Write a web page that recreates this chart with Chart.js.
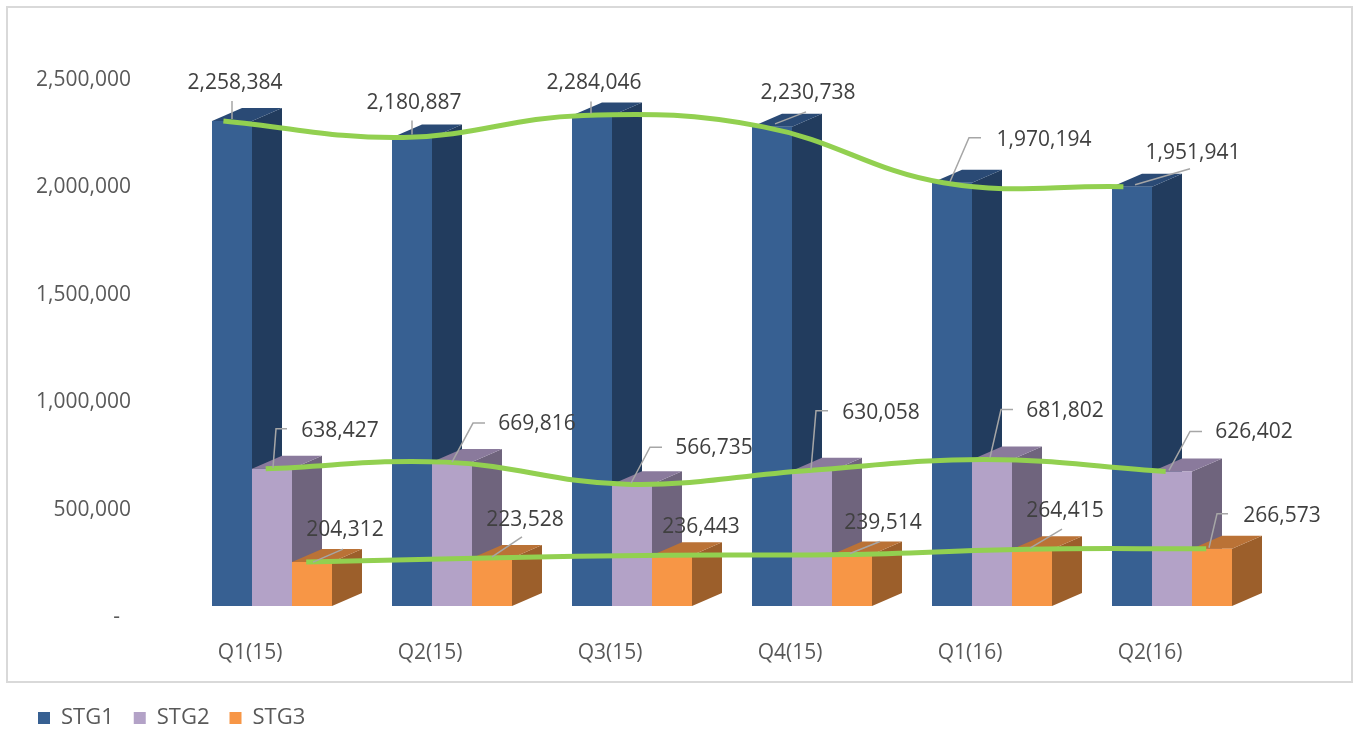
<!DOCTYPE html>
<html>
<head>
<meta charset="utf-8">
<script src="https://cdn.jsdelivr.net/npm/chart.js@4.4.1/dist/chart.umd.min.js"></script>
<style>
  html, body { margin: 0; padding: 0; background: #fff; overflow: hidden; }
  #wrap { position: relative; width: 1354px; height: 744px; }
</style>
</head>
<body>
<div id="wrap"><canvas id="chart"></canvas></div>
<script>
// --- Data ---
const quarters = ["Q1(15)", "Q2(15)", "Q3(15)", "Q4(15)", "Q1(16)", "Q2(16)"];
const seriesNames = ["STG1", "STG2", "STG3"];

const stg1 = [2258384, 2180887, 2284046, 2230738, 1970194, 1951941];
const stg2 = [638427, 669816, 566735, 630058, 681802, 626402];
const stg3 = [204312, 223528, 236443, 239514, 264415, 266573];

const yMin = 0;
const yMax = 2500000;
const yStep = 500000;

// --- Styling ---
const FRONT = ["#376092", "#B3A2C7", "#F79646"];
const SIDE = ["#223C5E", "#6F647D", "#9C5F2B"];
const TOP = ["#2A4A75", "#8A7A9C", "#BA7236"];
const LINE_GREEN = "#92D050";
const DEPTH = { dx: 30, dy: -13 };

// where the green line meets each bar, as a shift along the category (in category units)
const LINE_X_SHIFT = [-0.27, -0.035, 0.19];

// label centre relative to the bar's front-top centre
const LABEL_POS = [
  [[3, -38], [2, -35], [2, -32], [36, -34], [92, -43], [61, -34]],
  [[68, -38], [85, -38], [82, -36], [69, -58], [73, -49], [82, -39]],
  [[33, -32], [33, -38], [29, -28], [31, -32], [33, -38], [70, -33]]
];

// leader lines relative to the bar's front-top centre
const LEADERS = [
  [[[0, -20], [0, -2]], [[0, -17], [0, -3]], [[-1, -14], [-1, -2]],
   [[34, -15], [3, -3]], [[29, -45], [17, -45], [-2, -1]], [[58, -18], [3, -2]]],
  [[[15, -40], [4, -40], [1, -1]], [[33, -39], [21, -39], [0, 0]], [[30, -37], [18, -37], [-1, -1]],
   [[16, -60], [4, -60], [-1, -1]], [[21, -50], [9, -50], [-2, -2]], [[30, -40], [18, -40], [-3, -1]]],
  [[[31, -13], [1, 0]], [[30, -21], [0, -1]], null,
   [[28, -13], [-2, -1]], [[30, -20], [-2, -1]], [[16, -35], [5, -35], [-3, -1]]]
];

const FONT = "'Open Sans', 'DejaVu Sans', sans-serif";

const barSeries = [stg1, stg2, stg3];

function fmt(v) {
  return Number(v).toLocaleString("en-US");
}

// --- Plugins ---
const frame = {
  id: "frame",
  beforeDraw(chart) {
    const ctx = chart.ctx;
    ctx.save();
    ctx.strokeStyle = "#D9D9D9";
    ctx.lineWidth = 2;
    ctx.strokeRect(7, 7, 1345, 675);
    ctx.restore();
  }
};

// side and top faces of the 3D bars; fronts are the normal bars
const bar3d = {
  id: "bar3d",
  beforeDatasetsDraw(chart) {
    const ctx = chart.ctx;
    const { dx, dy } = DEPTH;
    ctx.save();
    for (let i = 0; i < quarters.length; i++) {
      for (let s = 0; s < barSeries.length; s++) {
        const el = chart.getDatasetMeta(s).data[i];
        if (!el) continue;
        const { x, y, base, width } = el.getProps(["x", "y", "base", "width"], true);
        const l = x - width / 2;
        const r = x + width / 2;

        ctx.fillStyle = SIDE[s];
        ctx.beginPath();
        ctx.moveTo(r, y);
        ctx.lineTo(r + dx, y + dy);
        ctx.lineTo(r + dx, base + dy);
        ctx.lineTo(r, base);
        ctx.closePath();
        ctx.fill();

        ctx.fillStyle = TOP[s];
        ctx.beginPath();
        ctx.moveTo(l, y);
        ctx.lineTo(l + dx, y + dy);
        ctx.lineTo(r + dx, y + dy);
        ctx.lineTo(r, y);
        ctx.closePath();
        ctx.fill();
      }
    }
    ctx.restore();
  }
};

const valueLabels = {
  id: "valueLabels",
  afterDatasetsDraw(chart) {
    const ctx = chart.ctx;
    ctx.save();
    ctx.font = "21px " + FONT;
    ctx.textAlign = "center";
    ctx.textBaseline = "middle";
    for (let s = 0; s < barSeries.length; s++) {
      const meta = chart.getDatasetMeta(s);
      meta.data.forEach((el, i) => {
        const { x, y } = el.getProps(["x", "y"], true);
        const lead = LEADERS[s][i];
        if (lead) {
          ctx.strokeStyle = "#A6A6A6";
          ctx.lineWidth = 1.5;
          ctx.beginPath();
          lead.forEach((p, k) => {
            if (k === 0) ctx.moveTo(x + p[0], y + p[1]);
            else ctx.lineTo(x + p[0], y + p[1]);
          });
          ctx.stroke();
        }
        const [ox, oy] = LABEL_POS[s][i];
        ctx.fillStyle = "#404040";
        ctx.fillText(fmt(barSeries[s][i]), x + ox, y + oy);
      });
    }
    ctx.restore();
  }
};

// --- Chart ---
// bars and lines both sit on the hidden linear axis "xq" (one unit per quarter);
// the category axis "x" only carries the quarter labels
const barSets = barSeries.map((vals, s) => ({
  type: "bar",
  label: seriesNames[s],
  data: vals.map((v, i) => ({ x: i, y: v })),
  backgroundColor: FRONT[s],
  borderWidth: 0,
  barPercentage: 1,
  categoryPercentage: 2 / 3,
  xAxisID: "xq",
  yAxisID: "y"
}));

const lineSets = barSeries.map((vals, s) => ({
  type: "line",
  label: seriesNames[s] + " trend",
  data: vals.map((v, i) => ({ x: i + LINE_X_SHIFT[s], y: v })),
  borderColor: LINE_GREEN,
  backgroundColor: LINE_GREEN,
  borderWidth: 5,
  borderCapStyle: "butt",
  tension: 0.4,
  pointRadius: 0,
  fill: false,
  order: -1,
  xAxisID: "xq",
  yAxisID: "y"
}));

new Chart(document.getElementById("chart"), {
  type: "bar",
  data: { labels: quarters, datasets: [...barSets, ...lineSets] },
  options: {
    responsive: true,
    maintainAspectRatio: false,
    animation: false,
    layout: { padding: { left: 18, right: 92, top: 69, bottom: 5 } },
    scales: {
      x: {
        type: "category",
        offset: true,
        grid: { display: false, drawTicks: false },
        border: { display: false },
        ticks: {
          color: "#595959",
          font: { family: FONT, size: 21 },
          padding: 34,
          labelOffset: -22,
          maxRotation: 0
        },
        afterFit: (scale) => { scale.height = 81; }
      },
      xq: {
        type: "linear",
        min: -0.5,
        max: quarters.length - 0.5,
        offset: false,
        display: false,
        afterBuildTicks: (scale) => { scale.ticks = []; }
      },
      y: {
        min: yMin,
        max: yMax,
        stacked: false,
        grid: { display: false, drawTicks: false },
        border: { display: false },
        ticks: {
          stepSize: yStep,
          color: "#595959",
          font: { family: FONT, size: 21 },
          padding: 51,
          labelOffset: 11,
          callback: (v) => (v === 0 ? "-  " : fmt(v))
        },
        afterFit: (scale) => { scale.width = 164; }
      }
    },
    plugins: {
      legend: {
        position: "bottom",
        align: "start",
        labels: {
          boxWidth: 12,
          boxHeight: 12,
          padding: 20,
          color: "#595959",
          font: { family: FONT, size: 22 },
          filter: (item) => item.datasetIndex < barSeries.length,
          sort: (a, b) => a.datasetIndex - b.datasetIndex
        }
      },
      tooltip: { enabled: false }
    }
  },
  plugins: [frame, bar3d, valueLabels]
});
</script>
</body>
</html>
